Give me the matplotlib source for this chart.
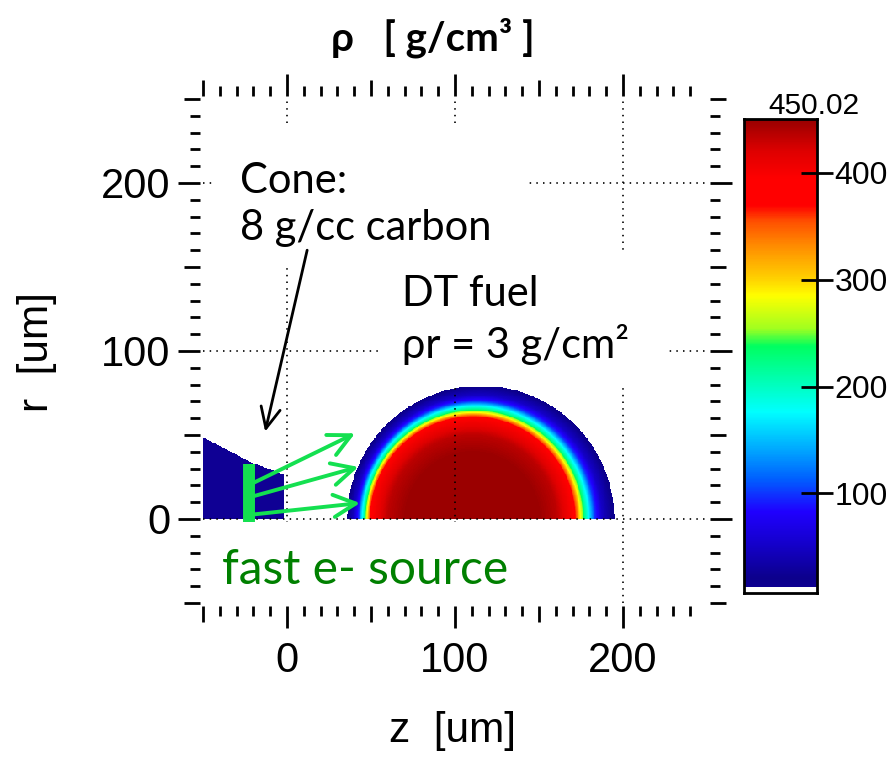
import numpy as np
import matplotlib
matplotlib.use("Agg")
import matplotlib.pyplot as plt
from matplotlib.colors import LinearSegmentedColormap, Normalize
from matplotlib.path import Path
from matplotlib.patches import Rectangle

# ---------------- density colour scale (g/cm^3) ----------------
cmap_vals = [5, 20, 50, 82, 113, 144, 176, 207, 238, 254, 285, 301, 332, 355, 370, 395, 420, 450.02]
cmap_rgb = [(16, 0, 150), (12, 0, 140), (20, 0, 200), (32, 0, 255), (0, 96, 255), (0, 176, 255),
            (0, 255, 255), (0, 255, 176), (0, 255, 96), (160, 255, 32), (255, 255, 0), (255, 210, 0),
            (255, 140, 0), (255, 80, 0), (255, 0, 0), (255, 0, 0), (224, 0, 0), (155, 0, 0)]
rho_min, rho_max = 5.0, 450.02
cbar_low, cbar_blank = 7.0, 12.5
cbar_ticks = [100, 200, 300, 400]

# ---------------- DT fuel: radial density profile ----------------
fuel_outer_center = 115.0   # um
fuel_outer_radius = 79.3    # um
fuel_core_center = 110.0    # um
fuel_core_radius = 60.0     # um
core_dist = [0, 40, 50, 56, 60]
core_rho = [450, 449, 435, 410, 395]
shell_frac = [0, 0.1, 0.18, 0.28, 0.39, 0.52, 0.7, 1.0]
shell_rho = [395, 340, 280, 220, 170, 100, 50, 15]

# ---------------- carbon cone ----------------
cone_z = [-50, -22, -2, -2, -50]
cone_r = [48.6, 34, 26.5, 0, 0]
cone_rho = 8.0

# ---------------- fast electron source and beams ----------------
source_z = -22.5
source_r = [-2, 33]
beam_start = [(-22, 20.5), (-22, 13), (-22, 2.5)]
beam_end = [(40.5, 51), (42.5, 31), (43.5, 9.5)]
cone_arrow_start = (12, 160)
cone_arrow_end = (-13, 52)

z_ticks_major = [0, 100, 200]
r_ticks_major = [0, 100, 200]
z_ticks_mid = [-50, 50, 150]
r_ticks_mid = [-50, 50, 150, 250]
z_ticks_minor = [v for v in range(-50, 250, 10) if v % 50]
r_ticks_minor = [v for v in range(-50, 251, 10) if v % 50]

# white label backgrounds (z0, r0, width, height) in um
cone_label_box = (-44.6, 149.4, 186.3, 83.3)
fuel_label_box = (56.5, 78.6, 169.5, 80.4)
source_label_box = (-45.0, -55.0, 230.0, 53.0)

# ---------------- build the density map ----------------
cmap = LinearSegmentedColormap.from_list(
    "rho", [((v - rho_min) / (rho_max - rho_min), tuple(c / 255 for c in rgb))
            for v, rgb in zip(cmap_vals, cmap_rgb)])
cmap.set_bad((1, 1, 1, 0))
norm = Normalize(vmin=rho_min, vmax=rho_max)

step = 0.5
zc = np.arange(-50 + step / 2, 250, step)
rc = np.arange(step / 2, 250, step)
Z, R = np.meshgrid(zc, rc)

dz = Z - fuel_core_center
D = np.hypot(dz, R)
ux = np.where(D > 0, dz / np.maximum(D, 1e-9), 1.0)
wx = fuel_core_center - fuel_outer_center
uw = ux * wx
S = -uw + np.sqrt(uw ** 2 - wx ** 2 + fuel_outer_radius ** 2)
T = (D - fuel_core_radius) / (S - fuel_core_radius)

rho = np.full(Z.shape, np.nan)
core = D <= fuel_core_radius
shell = (~core) & (T <= 1.0)
rho[core] = np.interp(D[core], core_dist, core_rho)
rho[shell] = np.interp(T[shell], shell_frac, shell_rho)

cone_path = Path(list(zip(cone_z, cone_r)))
inside = cone_path.contains_points(np.column_stack([Z.ravel(), R.ravel()])).reshape(Z.shape)
rho[inside] = cone_rho

# ---------------- figure ----------------
W, H = 888, 757
fig = plt.figure(figsize=(W / 100, H / 100), dpi=100, facecolor="white")
pos = [203 / W, 1 - 603 / H, 504 / W, 504 / H]

ax = fig.add_axes(pos)
ax.imshow(rho, origin="lower", extent=(-50, 250, 0, 250), cmap=cmap, norm=norm,
          interpolation="nearest", aspect="auto", zorder=0)
ax.set_xlim(-50, 250)
ax.set_ylim(-50, 250)
ax.set_xticks(z_ticks_major)
ax.set_yticks(r_ticks_major)
ax.tick_params(length=0, labelbottom=False, labelleft=False)
for s in ax.spines.values():
    s.set_visible(False)
ax.set_axisbelow(False)
ax.grid(which="major", color="black", linestyle=(0, (0.9, 3.1)), linewidth=1.2)

for z0, r0, w, h in (cone_label_box, fuel_label_box, source_label_box):
    ax.add_patch(Rectangle((z0, r0), w, h, facecolor="white", edgecolor="none", zorder=3))

ann_font = ["Lato", "DejaVu Sans"]

ax.text(47, 187, "Cone:\n8 g/cc carbon", fontsize=30, family=ann_font, ha="center", va="center",
        multialignment="left", linespacing=1.3, zorder=4)
ax.text(136, 118.5, "DT fuel\nρr = 3 g/cm²", fontsize=30, family=ann_font, ha="center", va="center",
        multialignment="left", linespacing=1.3, zorder=4)
ax.text(46.4, -30.4, "fast e- source", fontsize=34.5, family=ann_font, color="#008000",
        ha="center", va="center", zorder=4)

ax.annotate("", xy=cone_arrow_end, xytext=cone_arrow_start, zorder=6,
            arrowprops=dict(arrowstyle="->,head_length=0.75,head_width=0.35", mutation_scale=20,
                            color="black", lw=2.0, shrinkA=0, shrinkB=0))
green = "#14e050"
for (z0, r0), (z1, r1) in zip(beam_start, beam_end):
    ax.annotate("", xy=(z1, r1), xytext=(z0, r0), zorder=6,
                arrowprops=dict(arrowstyle="->,head_length=0.8,head_width=0.4", mutation_scale=20,
                                color=green, lw=2.8, shrinkA=0, shrinkB=0))
ax.vlines(source_z, source_r[0], source_r[1], color=green, lw=8.6, zorder=7)


def tick_layer(major_x, major_y, length, labels, minor_x=None, minor_y=None, minor_len=0):
    a = fig.add_axes(pos, facecolor="none")
    a.set_xlim(-50, 250)
    a.set_ylim(-50, 250)
    for s in a.spines.values():
        s.set_visible(False)
        s.set_position(("outward", 2.5))
    a.set_xticks(major_x)
    a.set_yticks(major_y)
    if minor_x is not None:
        a.set_xticks(minor_x, minor=True)
        a.set_yticks(minor_y, minor=True)
        a.tick_params(which="minor", direction="out", length=minor_len, width=2,
                      top=True, right=True, bottom=True, left=True)
    a.tick_params(which="major", direction="out", length=length, width=2,
                  top=True, right=True, bottom=True, left=True,
                  labelbottom=labels, labelleft=labels, labelsize=30)
    a.tick_params(axis="x", which="major", pad=9)
    a.tick_params(axis="y", which="major", pad=5)
    for lab in a.get_xticklabels() + a.get_yticklabels():
        lab.set_family(["Liberation Sans", "DejaVu Sans"])
    return a


tick_layer(z_ticks_mid, r_ticks_mid, 11.5, False)
tick_layer(z_ticks_major, r_ticks_major, 16, True, z_ticks_minor, r_ticks_minor, 7.5)

label_font = ["Liberation Sans", "DejaVu Sans"]
fig.text(452 / W, 1 - 731 / H, "z  [um]", fontsize=30.5, family=label_font, ha="center", va="center")
fig.text(37 / W, 1 - 352 / H, "r  [um]", fontsize=30.5, family=label_font, ha="center", va="center",
         rotation=90)
fig.text(433 / W, 1 - 38 / H, "ρ   [ g/cm³ ]", fontsize=29, family=ann_font, weight="bold",
         ha="center", va="center")

# ---------------- colour bar ----------------
cax = fig.add_axes([744 / W, 1 - 593 / H, 73 / W, 474 / H])
grad = np.linspace(cbar_low, rho_max, 600)[:, None]
cax.imshow(grad, origin="lower", extent=(0, 1, cbar_low, rho_max), cmap=cmap, norm=norm,
           aspect="auto", interpolation="bilinear")
cax.axhspan(cbar_low, cbar_blank, color="white", lw=0)
cax.set_xlim(0, 1)
cax.set_ylim(cbar_low, rho_max)
cax.set_xticks([])
cax.set_yticks(cbar_ticks)
cax.yaxis.tick_right()
cax.tick_params(axis="y", direction="inout", length=23, width=2, labelsize=23, pad=1)
for lab in cax.get_yticklabels():
    lab.set_family(label_font)
for s in cax.spines.values():
    s.set_linewidth(2)
fig.text(814 / W, 1 - 114 / H, f"{rho_max:.2f}", fontsize=21.5, family=label_font,
         ha="center", va="baseline")

fig.savefig("out.png", dpi=100, facecolor="white")
